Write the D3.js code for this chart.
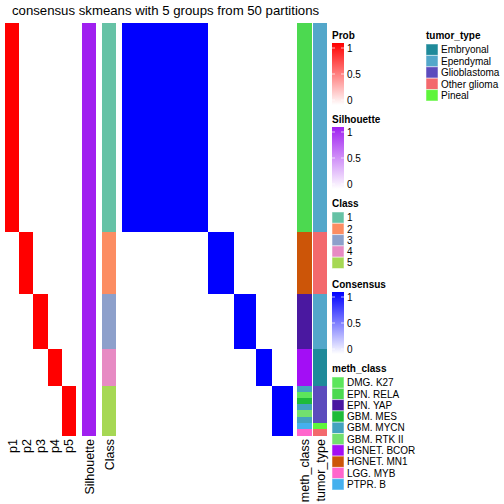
<!DOCTYPE html>
<html><head><meta charset="utf-8">
<script src="https://cdn.jsdelivr.net/npm/d3@7"></script>
<style>body{margin:0;background:#fff}svg{display:block}text{font-family:"Liberation Sans",Arial,sans-serif}rect.cell{shape-rendering:crispEdges}</style>
</head><body><svg id="c" width="504" height="504"></svg>
<script>
// ---- data ----
const classCounts = [34, 10, 9, 6, 8];
const sampleClass = [
 1,1,1,1,1,1,1,1,1,1,1,1,1,1,1,1,1,1,1,1,1,1,1,1,1,1,1,1,1,1,1,1,1,1,
 2,2,2,2,2,2,2,2,2,2,
 3,3,3,3,3,3,3,3,3,
 4,4,4,4,4,4,
 5,5,5,5,5,5,5,5];
const probColumns = ["p1","p2","p3","p4","p5"];
const classProb = [1,1,1,1,1]; // probability of assigned class, per class
const silhouette = [1,1,1,1,1]; // silhouette per class
const consensusBlock = [
 [1,0,0,0,0],
 [0,1,0,0,0],
 [0,0,1,0,0],
 [0,0,0,1,0],
 [0,0,0,0,1]];
const methClass = [
 "EPN. RELA","EPN. RELA","EPN. RELA","EPN. RELA","EPN. RELA","EPN. RELA","EPN. RELA","EPN. RELA","EPN. RELA","EPN. RELA",
 "EPN. RELA","EPN. RELA","EPN. RELA","EPN. RELA","EPN. RELA","EPN. RELA","EPN. RELA","EPN. RELA","EPN. RELA","EPN. RELA",
 "EPN. RELA","EPN. RELA","EPN. RELA","EPN. RELA","EPN. RELA","EPN. RELA","EPN. RELA","EPN. RELA","EPN. RELA","EPN. RELA",
 "EPN. RELA","EPN. RELA","EPN. RELA","EPN. RELA",
 "HGNET. MN1","HGNET. MN1","HGNET. MN1","HGNET. MN1","HGNET. MN1","HGNET. MN1","HGNET. MN1","HGNET. MN1","HGNET. MN1","HGNET. MN1",
 "EPN. YAP","EPN. YAP","EPN. YAP","EPN. YAP","EPN. YAP","EPN. YAP","EPN. YAP","EPN. YAP","EPN. YAP",
 "HGNET. BCOR","HGNET. BCOR","HGNET. BCOR","HGNET. BCOR","HGNET. BCOR","HGNET. BCOR",
 "GBM. MYCN","DMG. K27","GBM. MES","GBM. MYCN","GBM. RTK II","GBM. MYCN","PTPR. B","LGG. MYB"];
const tumorType = [
 "Ependymal","Ependymal","Ependymal","Ependymal","Ependymal","Ependymal","Ependymal","Ependymal","Ependymal","Ependymal",
 "Ependymal","Ependymal","Ependymal","Ependymal","Ependymal","Ependymal","Ependymal","Ependymal","Ependymal","Ependymal",
 "Ependymal","Ependymal","Ependymal","Ependymal","Ependymal","Ependymal","Ependymal","Ependymal","Ependymal","Ependymal",
 "Ependymal","Ependymal","Ependymal","Ependymal",
 "Other glioma","Other glioma","Other glioma","Other glioma","Other glioma","Other glioma","Other glioma","Other glioma","Other glioma","Other glioma",
 "Ependymal","Ependymal","Ependymal","Ependymal","Ependymal","Ependymal","Ependymal","Ependymal","Ependymal",
 "Embryonal","Embryonal","Embryonal","Embryonal","Embryonal","Embryonal",
 "Glioblastoma","Glioblastoma","Glioblastoma","Glioblastoma","Glioblastoma","Glioblastoma","Pineal","Other glioma"];
const classLevels = ["1","2","3","4","5"];
const classColors = ["#66c2a5","#fc8d62","#8da0cb","#e78ac3","#a6d854"];
const tumorLevels = ["Embryonal","Ependymal","Glioblastoma","Other glioma","Pineal"];
const tumorColors = ["#1f8a9a","#53a7ca","#5c4bbd","#f3696d","#5ef53b"];
const methLevels = ["DMG. K27","EPN. RELA","EPN. YAP","GBM. MES","GBM. MYCN","GBM. RTK II","HGNET. BCOR","HGNET. MN1","LGG. MYB","PTPR. B"];
const methColors = ["#5ce65c","#4cd950","#4a18a0","#1ebb3a","#44a2bf","#72e06e","#a30ef5","#cc5508","#ff66cc","#45b0ee"];
const gradLegends = [
 {title:"Prob", color:"#ff0000", ticks:[1,0.5,0]},
 {title:"Silhouette", color:"#a020f0", ticks:[1,0.5,0]},
 {title:"Consensus", color:"#0000ff", ticks:[1,0.5,0]}];

// ---- drawing ----
const svg = d3.select("#c");
const n = sampleClass.length;
const idx = d3.range(n);
const y = d3.scaleBand().domain(idx).range([23, 435]);

svg.append("text").attr("x", 12).attr("y", 15).attr("font-size", 13.2).attr("fill", "#000")
  .text("consensus skmeans with 5 groups from 50 partitions");

const probScale = d3.scaleLinear().domain([0,1]).range(["#ffffff","#ff0000"]);
const silScale = d3.scaleLinear().domain([0,1]).range(["#ffffff","#a020f0"]);
const consScale = d3.scaleLinear().domain([0,1]).range(["#ffffff","#0000ff"]);
const classScale = d3.scaleOrdinal().domain(classLevels).range(classColors);
const tumorScale = d3.scaleOrdinal().domain(tumorLevels).range(tumorColors);
const methScale = d3.scaleOrdinal().domain(methLevels).range(methColors);

// prob columns
const xp = d3.scaleBand().domain(probColumns).range([5, 76]);
probColumns.forEach((pc, j) => {
  svg.append("g").selectAll("rect").data(idx).join("rect").attr("class", "cell")
    .attr("x", xp(pc)).attr("width", xp.bandwidth())
    .attr("y", i => y(i)).attr("height", y.bandwidth() + 0.5)
    .attr("fill", i => probScale(sampleClass[i] === j + 1 ? classProb[j] : 0));
});

// silhouette & class
const xa = d3.scaleOrdinal().domain(["Silhouette","Class"]).range([82, 102]);
const annW = 14;
svg.append("g").selectAll("rect").data(idx).join("rect").attr("class", "cell")
  .attr("x", xa("Silhouette")).attr("width", annW)
  .attr("y", i => y(i)).attr("height", y.bandwidth() + 0.5)
  .attr("fill", i => silScale(silhouette[sampleClass[i]-1]));
svg.append("g").selectAll("rect").data(idx).join("rect").attr("class", "cell")
  .attr("x", xa("Class")).attr("width", annW)
  .attr("y", i => y(i)).attr("height", y.bandwidth() + 0.5)
  .attr("fill", i => classScale(String(sampleClass[i])));

// consensus heatmap
const xh = d3.scaleBand().domain(idx).range([122, 292]);
const cells = [];
idx.forEach(r => idx.forEach(c => cells.push([r, c])));
svg.append("g").selectAll("rect").data(cells).join("rect").attr("class", "cell")
  .attr("x", d => xh(d[1])).attr("width", xh.bandwidth() + 0.5)
  .attr("y", d => y(d[0])).attr("height", y.bandwidth() + 0.5)
  .attr("fill", d => consScale(consensusBlock[sampleClass[d[0]]-1][sampleClass[d[1]]-1]));

// meth_class and tumor_type
const xr = d3.scaleOrdinal().domain(["meth_class","tumor_type"]).range([297, 312.7]);
const rw = 14.7;
svg.append("g").selectAll("rect").data(idx).join("rect").attr("class", "cell")
  .attr("x", xr("meth_class")).attr("width", rw)
  .attr("y", i => y(i)).attr("height", y.bandwidth() + 0.5)
  .attr("fill", i => methScale(methClass[i]));
svg.append("g").selectAll("rect").data(idx).join("rect").attr("class", "cell")
  .attr("x", xr("tumor_type")).attr("width", rw)
  .attr("y", i => y(i)).attr("height", y.bandwidth() + 0.5)
  .attr("fill", i => tumorScale(tumorType[i]));

// column labels
const colLabels = probColumns.map(p => [p, xp(p) + xp.bandwidth()/2])
  .concat([["Silhouette", xa("Silhouette") + annW/2], ["Class", xa("Class") + annW/2],
           ["meth_class", xr("meth_class") + rw/2], ["tumor_type", xr("tumor_type") + rw/2]]);
svg.append("g").selectAll("text").data(colLabels).join("text")
  .attr("transform", d => `translate(${d[1] + 4.5},439) rotate(-90)`)
  .attr("text-anchor", "end").attr("font-size", 12.5).attr("fill", "#000")
  .text(d => d[0]);

// gradient legends
const defs = svg.append("defs");
const gradPos = [{x:332, ty:35}, {x:332, ty:119}, {x:332, ty:284}];
gradLegends.forEach((g, k) => {
  const id = "grad" + k;
  const lg = defs.append("linearGradient").attr("id", id).attr("x1",0).attr("y1",1).attr("x2",0).attr("y2",0);
  lg.append("stop").attr("offset", 0).attr("stop-color", "#ffffff");
  lg.append("stop").attr("offset", 1).attr("stop-color", g.color);
  const p = gradPos[k];
  svg.append("text").attr("x", p.x).attr("y", p.ty + 3.5).attr("font-size", 10).attr("font-weight", "bold").text(g.title);
  const top = p.ty + 8, h = 62;
  svg.append("rect").attr("x", p.x).attr("y", top).attr("width", 12).attr("height", h).attr("fill", `url(#${id})`);
  const ly = d3.scaleLinear().domain([0,1]).range([top + h - 5, top + 5]);
  g.ticks.forEach(t => {
    svg.append("line").attr("x1", p.x).attr("x2", p.x + 3).attr("y1", ly(t)).attr("y2", ly(t)).attr("stroke", "#fff").attr("stroke-width", 1).attr("opacity", 0.7);
    svg.append("line").attr("x1", p.x + 9).attr("x2", p.x + 12).attr("y1", ly(t)).attr("y2", ly(t)).attr("stroke", "#fff").attr("stroke-width", 1).attr("opacity", 0.7);
    svg.append("text").attr("x", p.x + 15).attr("y", ly(t) + 3.6).attr("font-size", 10).text(t);
  });
});

// discrete legends
function discreteLegend(x, ty, title, levels, colors, step) {
  svg.append("text").attr("x", x).attr("y", ty + 3.5).attr("font-size", 10).attr("font-weight", "bold").text(title);
  const top = ty + 9;
  levels.forEach((lv, i) => {
    svg.append("rect").attr("x", x).attr("y", top + i*step).attr("width", 12).attr("height", step)
      .attr("fill", colors[i]).attr("stroke", "#fff").attr("stroke-opacity", 0.5).attr("stroke-width", 1);
    svg.append("text").attr("x", x + 15).attr("y", top + i*step + step/2 + 3.6).attr("font-size", 10).text(lv);
  });
}
discreteLegend(426, 35, "tumor_type", tumorLevels, tumorColors, 11.4);
discreteLegend(332, 203, "Class", classLevels, classColors, 11.3);
discreteLegend(332, 368, "meth_class", methLevels, methColors, 11.3);
</script></body></html>
